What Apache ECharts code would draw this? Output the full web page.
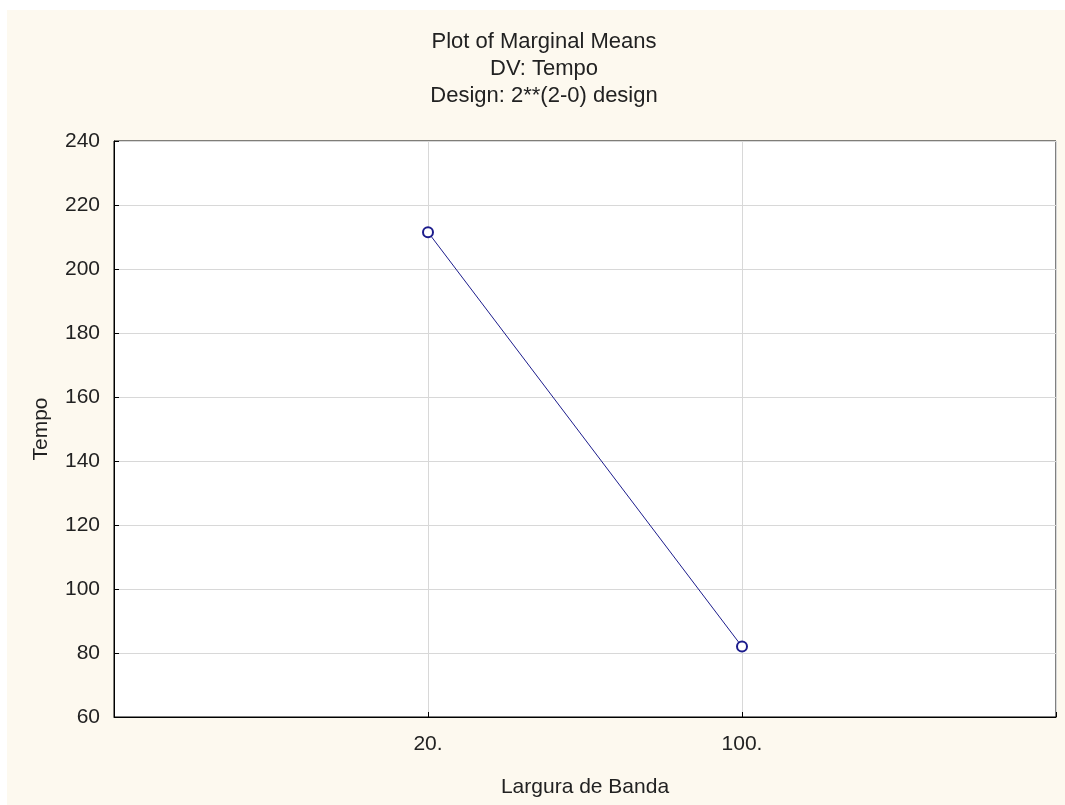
<!DOCTYPE html>
<html>
<head>
<meta charset="utf-8">
<script src="https://cdn.jsdelivr.net/npm/echarts@6/dist/echarts.min.js"></script>
<style>
html, body { margin: 0; padding: 0; background: #ffffff; }
#chart { position: absolute; left: 7px; top: 10px; width: 1058px; height: 795px; background: #FDF9EF; }
</style>
</head>
<body>
<div id="chart"></div>
<script>
var titleLines = ['Plot of Marginal Means', 'DV: Tempo', 'Design: 2**(2-0) design'];
var categories = ['', '20.', '100.', ''];
var tempoValues = [null, 211.5, 82, null];
var yMin = 60, yMax = 240, yInterval = 20;
var xAxisName = 'Largura de Banda';
var yAxisName = 'Tempo';

var FONT = '"Liberation Sans", Arial, sans-serif';
var chart = echarts.init(document.getElementById('chart'), null, { renderer: 'canvas' });
chart.setOption({
  backgroundColor: '#FDF9EF',
  animation: false,
  title: {
    text: titleLines.join('\n'),
    left: 532,
    top: 13,
    textAlign: 'center',
    textStyle: { fontFamily: FONT, fontSize: 22, fontWeight: 'normal', color: '#222', lineHeight: 27 }
  },
  grid: {
    left: 107, right: 9, top: 131, bottom: 88,
    show: true, backgroundColor: '#ffffff', borderColor: '#000', borderWidth: 1
  },
  xAxis: {
    type: 'category',
    data: categories,
    boundaryGap: false,
    name: xAxisName,
    nameLocation: 'middle',
    nameGap: 60,
    nameTextStyle: { fontFamily: FONT, fontSize: 21, color: '#222' },
    axisLine: { show: true, lineStyle: { color: '#000', width: 1 } },
    axisTick: { show: true, inside: true, length: 5, lineStyle: { color: '#000' } },
    axisLabel: { fontFamily: FONT, fontSize: 21, color: '#222', margin: 17 },
    splitLine: { show: true, lineStyle: { color: '#d8d8d8', width: 1 } }
  },
  yAxis: {
    type: 'value',
    min: yMin, max: yMax, interval: yInterval,
    name: yAxisName,
    nameLocation: 'middle',
    nameGap: 62,
    nameTextStyle: { fontFamily: FONT, fontSize: 21, color: '#222' },
    axisLine: { show: true, lineStyle: { color: '#000', width: 1 } },
    axisTick: { show: true, inside: true, length: 5, lineStyle: { color: '#000' } },
    axisLabel: { fontFamily: FONT, fontSize: 21, color: '#222', margin: 14 },
    splitLine: { show: true, lineStyle: { color: '#d8d8d8', width: 1 } }
  },
  series: [{
    type: 'line',
    data: tempoValues,
    connectNulls: false,
    symbol: 'emptyCircle',
    symbolSize: 10,
    lineStyle: { color: '#1c1c8c', width: 1 },
    itemStyle: { color: '#1c1c8c', borderColor: '#1c1c8c', borderWidth: 1.5 }
  }]
});
</script>
</body>
</html>
